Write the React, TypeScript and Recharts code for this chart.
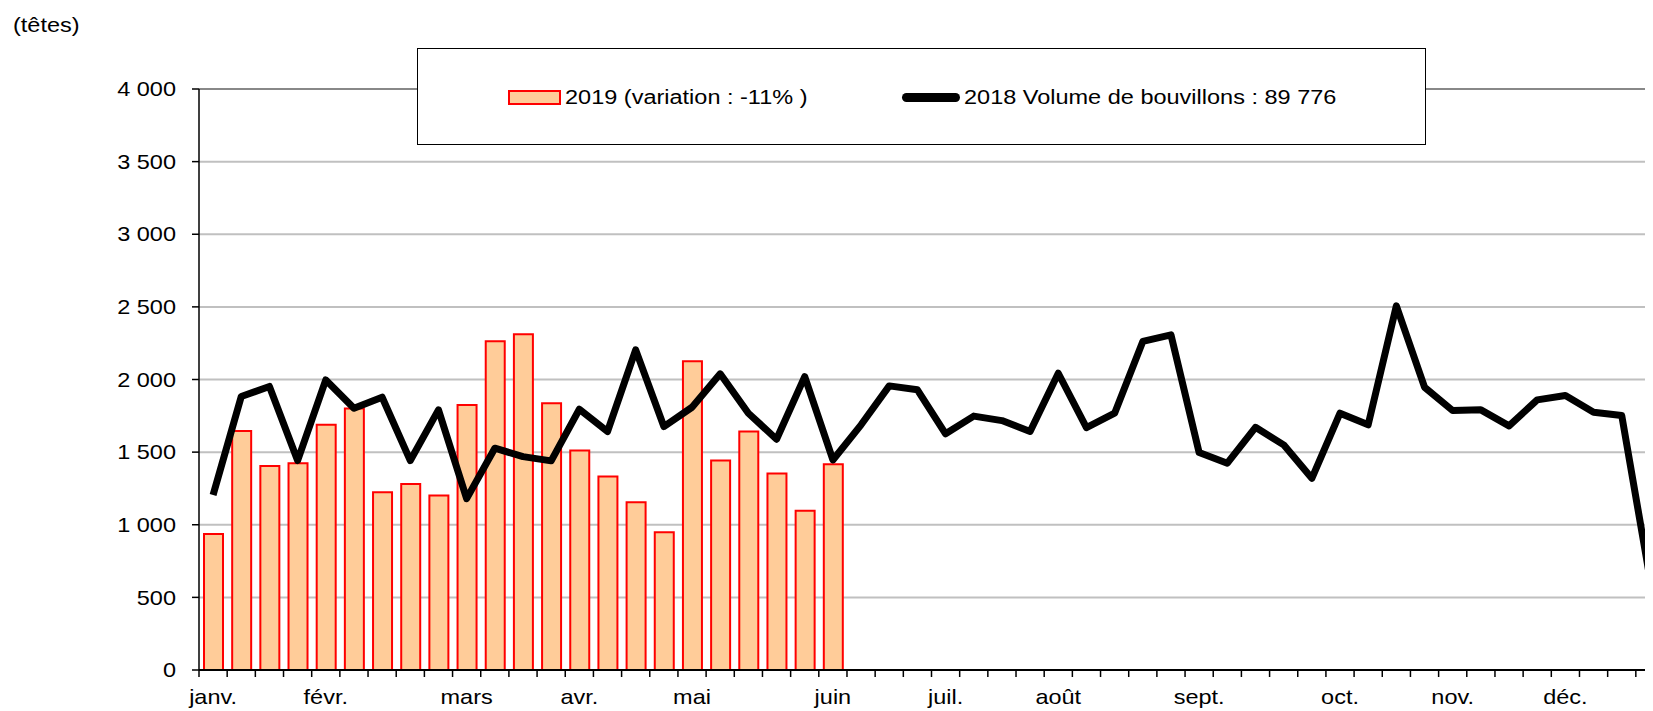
import React from 'react';
import { ComposedChart, Bar, Line, XAxis, YAxis, CartesianGrid, ReferenceLine } from 'recharts';

const weeks = [
  1, 2, 3, 4, 5, 6, 7, 8, 9, 10, 11, 12, 13, 14, 15, 16, 17, 18, 19, 20, 21, 22, 23, 24, 25, 26,
  27, 28, 29, 30, 31, 32, 33, 34, 35, 36, 37, 38, 39, 40, 41, 42, 43, 44, 45, 46, 47, 48, 49, 50, 51, 52,
];

const monthLabels = [
  'janv.', '', '', '',
  'févr.', '', '', '', '',
  'mars', '', '', '',
  'avr.', '', '', '',
  'mai', '', '', '', '',
  'juin', '', '', '',
  'juil.', '', '', '',
  'août', '', '', '', '',
  'sept.', '', '', '', '',
  'oct.', '', '', '',
  'nov.', '', '', '',
  'déc.', '', '', '',
];

const values2019 = [
  937, 1646, 1405, 1424, 1688, 1800, 1224, 1281, 1201, 1825, 2264, 2312, 1837, 1511, 1332, 1155,
  948, 2126, 1442, 1642, 1352, 1097, 1417,
];

const values2018 = [
  1205, 1883, 1952, 1442, 1997, 1802, 1878, 1442, 1791, 1180,
  1527, 1469, 1440, 1795, 1642, 2204, 1676, 1809, 2039, 1768,
  1589, 2020, 1446, 1688, 1956, 1929, 1626, 1748, 1717, 1642,
  2043, 1669, 1768, 2262, 2307, 1497, 1424, 1671, 1550, 1320,
  1768, 1688, 2507, 1947, 1786, 1791, 1681, 1860, 1890, 1775,
  1752, 631,
];

const yTicks = [0, 500, 1000, 1500, 2000, 2500, 3000, 3500, 4000];

const unitLabel = '(têtes)';
const legend2019 = '2019 (variation : -11% )';
const legend2018 = '2018 Volume de bouvillons : 89 776';

const data = weeks.map((w, i) => ({
  week: w,
  v2019: i < values2019.length ? values2019[i] : null,
  v2018: values2018[i],
}));

const FONT = '"Liberation Sans", Arial, sans-serif';
const FS = 23.5;

const fmtY = (v: number) => {
  const s = String(v);
  if (s.length > 3) return s.slice(0, s.length - 3) + ' ' + s.slice(s.length - 3);
  return s;
};

const XTick = (props: any) => {
  const { x, y, payload } = props;
  const off = payload && typeof payload.offset === 'number' ? payload.offset : 14.08;
  const idx = weeks.indexOf(payload.value);
  const label = idx >= 0 ? monthLabels[idx] : '';
  return (
    <g>
      <line x1={x - off} x2={x - off} y1={y} y2={y + 7} stroke="#000" strokeWidth={1.5} />
      {label ? (
        <text x={x} y={y + 35} textAnchor="middle" fill="#000" fontSize={FS} fontFamily={FONT}>
          {label}
        </text>
      ) : null}
    </g>
  );
};

const squash: React.CSSProperties = {
  display: 'inline-block',
  transform: 'scaleY(0.86)',
  whiteSpace: 'nowrap',
};

export default function App() {
  return (
    <div
      className="chartwrap"
      style={{ position: 'relative', width: 1645, height: 703, overflow: 'hidden', fontFamily: FONT }}
    >
      <style>{`.chartwrap svg text { transform-box: fill-box; transform-origin: center; transform: scaleY(0.86); }`}</style>
      <ComposedChart
        width={1680}
        height={703}
        data={data}
        margin={{ top: 81, right: 24, left: 0, bottom: 0 }}
        barCategoryGap="29%"
      >
        <CartesianGrid horizontal vertical={false} stroke="#C0C0C0" strokeWidth={2} />
        <ReferenceLine y={4000} stroke="#888888" strokeWidth={2} ifOverflow="extendDomain" />
        <XAxis
          dataKey="week"
          type="category"
          interval={0}
          height={41}
          tickLine={false}
          tickSize={0}
          tickMargin={0}
          tick={<XTick />}
          axisLine={{ stroke: '#000', strokeWidth: 2 }}
        />
        <YAxis
          width={191}
          domain={[0, 4000]}
          ticks={yTicks}
          interval={0}
          tickFormatter={fmtY}
          tickSize={7}
          tickMargin={16}
          tickLine={{ stroke: '#000', strokeWidth: 1.5 }}
          axisLine={{ stroke: '#000', strokeWidth: 1.5 }}
          tick={{ fill: '#000', fontSize: FS, fontFamily: FONT }}
        />
        <Bar
          dataKey="v2019"
          fill="#FFCC99"
          stroke="#FF0000"
          strokeWidth={2}
          barSize={19}
          isAnimationActive={false}
        />
        <Line
          dataKey="v2018"
          type="linear"
          stroke="#000000"
          strokeWidth={7}
          strokeLinejoin="round"
          dot={false}
          activeDot={false}
          isAnimationActive={false}
        />
      </ComposedChart>

      <div
        style={{
          position: 'absolute',
          left: 5,
          top: 4,
          fontSize: FS,
          lineHeight: '27px',
          color: '#000',
        }}
      >
        <span style={squash}>{unitLabel}</span>
      </div>

      <div
        style={{
          position: 'absolute',
          left: 409,
          top: 40,
          width: 1009,
          height: 97,
          boxSizing: 'border-box',
          border: '1.5px solid #000',
          background: '#fff',
          fontSize: FS,
          color: '#000',
        }}
      >
        <div
          style={{
            position: 'absolute',
            left: 90,
            top: 41,
            width: 53,
            height: 15,
            boxSizing: 'border-box',
            border: '2px solid #FF0000',
            background: '#FFCC99',
          }}
        />
        <div style={{ position: 'absolute', left: 147, top: 35, lineHeight: '27px' }}>
          <span style={squash}>{legend2019}</span>
        </div>
        <div
          style={{
            position: 'absolute',
            left: 484,
            top: 44,
            width: 58,
            height: 9,
            borderRadius: 4.5,
            background: '#000',
          }}
        />
        <div style={{ position: 'absolute', left: 546, top: 35, lineHeight: '27px' }}>
          <span style={squash}>{legend2018}</span>
        </div>
      </div>
    </div>
  );
}
